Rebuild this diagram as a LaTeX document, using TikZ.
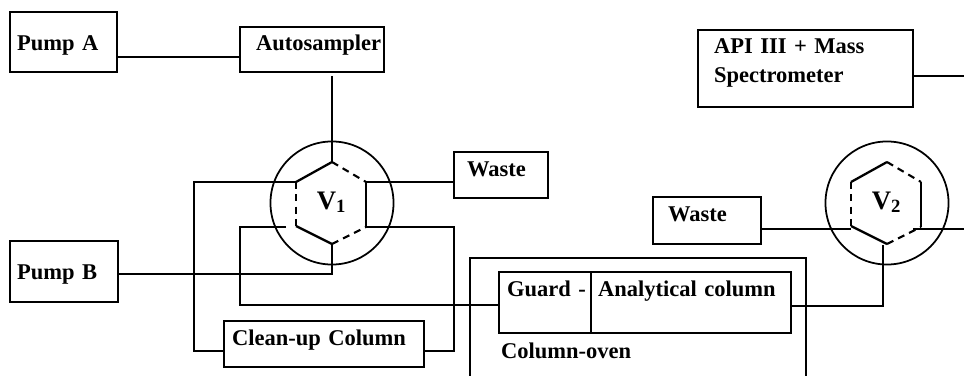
\documentclass[tikz,border=0pt]{standalone}
\usepackage{fontspec}
\usepackage{tikz}
\setmainfont{Liberation Serif}
\tikzset{
    box/.style={draw,line width=0.65pt,anchor=north west,align=left,inner ysep=0pt,outer sep=0pt,
        font=\fontsize{6.4}{8.25}\selectfont\bfseries},
    valve/.style={draw,circle,line width=0.5pt,minimum size=1.23cm,inner sep=0pt,outer sep=0pt,
        text depth=.05cm,font=\fontsize{7.6}{8.25}\selectfont\bfseries},
    tube/.style={line width=0.65pt},
    port/.style={line width=0.6pt,dash pattern=on 2pt off 1.5pt},
}

\begin{document}
\begin{tikzpicture}[x=0.01cm,y=-0.01cm]
    \useasboundingbox (0,0) rectangle (964,376);
    % pumps and sampler
    \node [box,text width=.93cm,inner xsep=.07cm,text height=.38cm,text depth=.22cm] (pumpa) at (10,12) {Pump A};
    \node [box,text width=.94cm,inner xsep=.07cm,text height=.38cm,text depth=.23cm] (pumpb) at (10,241) {Pump B};
    \node [box,text width=1.12cm,inner xsep=.16cm,text height=.23cm,text depth=.22cm] (autosampler) at (240,27) {Autosampler};
    % waste and detector
    \node [box,text width=.68cm,inner xsep=.13cm,text height=.24cm,text depth=.22cm] (wastea) at (454,152) {Waste};
    \node [box,text width=.78cm,inner xsep=.15cm,text height=.24cm,text depth=.23cm] (wasteb) at (653,197) {Waste};
    \node [box,text width=1.83cm,inner xsep=.16cm,text height=.23cm,text depth=.54cm] (api) at (698,30) {API III + Mass\\Spectrometer};
    % columns
    \node [box,text width=1.84cm,inner xsep=.08cm,text height=.24cm,text depth=.22cm] (cleanup) at (224,321) {Clean-up Column};
    \node [box,text width=.84cm,inner xsep=.04cm,text height=.24cm,text depth=.37cm] (guard) at (499,272) {\hspace*{.04cm}Guard~-};
    \node [box,text width=1.86cm,inner xsep=.07cm,text height=.24cm,text depth=.37cm] (analytical) at (591,272) {Analytical column};
    \draw [line width=0.4pt] (470,376) -- (470,258) -- (806,258) -- (806,376);
    \node [box,draw=none,inner xsep=0pt,anchor=base west] (oven) at (501,358) {Column-oven};
    % valves
    \node [valve] (valvea) at (332,203) {V\textsubscript{1}};
    \node [valve] (valveb) at (887,203) {V\textsubscript{2}};
    \foreach \v in {valvea,valveb}{
        \coordinate (\v top) at ([shift={(0,-41)}]\v.center);
        \coordinate (\v ur) at ([shift={(34,-21)}]\v.center);
        \coordinate (\v lr) at ([shift={(34,24)}]\v.center);
        \coordinate (\v bot) at ([shift={(0,41)}]\v.center);
        \coordinate (\v ll) at ([shift={(-36,23)}]\v.center);
        \coordinate (\v ul) at ([shift={(-36,-21)}]\v.center);
        \draw [tube] (\v top) -- (\v ul);
        \draw [tube] (\v ll) -- (\v bot);
        \draw [tube] (\v ur) -- (\v lr);
        \draw [port] (\v top) -- (\v ur);
        \draw [port] (\v ul) -- (\v ll);
        \draw [port] (\v bot) -- (\v lr);
    }
    % connections
    \coordinate (outa) at (964,76);
    \coordinate (outb) at (964,229);
    \coordinate (samplerend) at (332,76);
    \coordinate (loopend) at (286,227);
    \coordinate (portb) at (913,229);
    \coordinate (columnin) at (883,245);
    \draw [tube] (pumpa.east |- 0,57) -- (autosampler.west |- 0,57);
    \draw [tube] (samplerend) -- (valveatop);
    \draw [tube] (pumpb.east |- 0,274) -- (332,274) -- (valveabot);
    \draw [tube] (valveaur) -- (wastea.west |- valveaur);
    \draw [tube] (valveaul) -- (194,182) -- (194,351) -- (cleanup.west |- 0,351);
    \draw [tube] (valvealr) -- (454,227) -- (454,351) -- (cleanup.east |- 0,351);
    \draw [tube] (loopend) -- (240,227) -- (240,305) -- (guard.west |- 0,305);
    \draw [tube] (analytical.east |- 0,306) -- (883,306) -- (columnin);
    \draw [tube] (wasteb.east |- 0,229) -- (851,229);
    \draw [tube] (portb) -- (outb);
    \draw [tube] (api.east |- outa) -- (outa);
\end{tikzpicture}
\end{document}
